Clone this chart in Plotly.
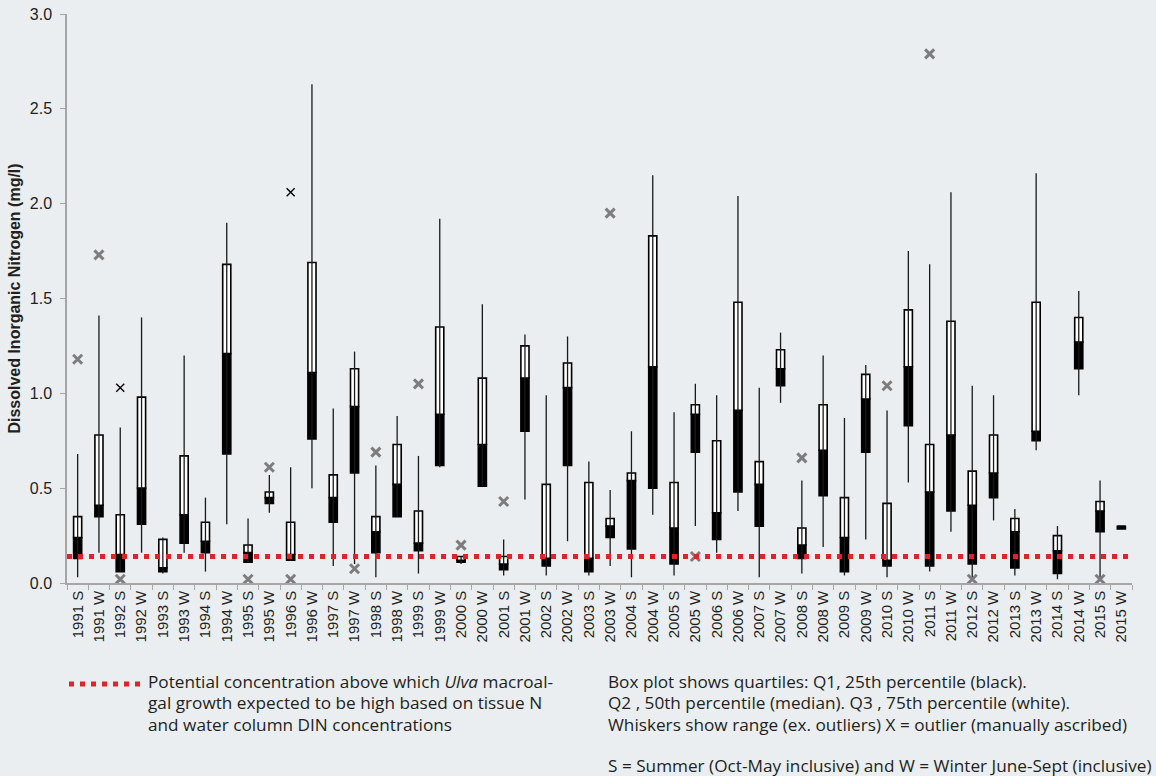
import plotly.graph_objects as go

years = list(range(1991, 2016))
categories = [f"{y} {s}" for y in years for s in ("S", "W")]

# whisker low / Q1 / median / Q3 / whisker high (mg/l)
wlow = [0.03, 0.16, 0.06, 0.16, 0.05, 0.16, 0.06, 0.31, 0.11, 0.37,
        0.12, 0.50, 0.09, 0.10, 0.03, 0.35, 0.05, 0.61, 0.10, 0.51,
        0.04, 0.44, 0.04, 0.22, 0.04, 0.09, 0.03, 0.36, 0.04, 0.30,
        0.16, 0.38, 0.03, 0.95, 0.05, 0.19, 0.04, 0.23, 0.03, 0.53,
        0.06, 0.27, 0.03, 0.33, 0.04, 0.70, 0.02, 0.99, 0.02, 0.29]
q1 = [0.13, 0.35, 0.06, 0.31, 0.06, 0.21, 0.16, 0.68, 0.11, 0.42,
      0.12, 0.76, 0.32, 0.58, 0.16, 0.35, 0.17, 0.62, 0.11, 0.51,
      0.07, 0.80, 0.09, 0.62, 0.06, 0.24, 0.18, 0.50, 0.10, 0.69,
      0.23, 0.48, 0.30, 1.04, 0.13, 0.46, 0.06, 0.69, 0.09, 0.83,
      0.09, 0.38, 0.10, 0.45, 0.08, 0.75, 0.05, 1.13, 0.27, 0.285]
median = [0.24, 0.41, 0.15, 0.50, 0.08, 0.36, 0.22, 1.21, 0.16, 0.45,
          0.15, 1.11, 0.45, 0.93, 0.27, 0.52, 0.21, 0.89, 0.12, 0.73,
          0.10, 1.08, 0.13, 1.03, 0.13, 0.30, 0.54, 1.14, 0.29, 0.89,
          0.37, 0.91, 0.52, 1.13, 0.20, 0.70, 0.24, 0.97, 0.12, 1.14,
          0.48, 0.78, 0.41, 0.58, 0.27, 0.80, 0.17, 1.27, 0.38, 0.299]
q3 = [0.35, 0.78, 0.36, 0.98, 0.23, 0.67, 0.32, 1.68, 0.20, 0.48,
      0.32, 1.69, 0.57, 1.13, 0.35, 0.73, 0.38, 1.35, 0.14, 1.08,
      0.14, 1.25, 0.52, 1.16, 0.53, 0.34, 0.58, 1.83, 0.53, 0.94,
      0.75, 1.48, 0.64, 1.23, 0.29, 0.94, 0.45, 1.10, 0.42, 1.44,
      0.73, 1.38, 0.59, 0.78, 0.34, 1.48, 0.25, 1.40, 0.43, 0.299]
whigh = [0.68, 1.41, 0.82, 1.40, 0.24, 1.20, 0.45, 1.90, 0.34, 0.57,
         0.61, 2.63, 0.92, 1.22, 0.62, 0.88, 0.67, 1.92, 0.14, 1.47,
         0.23, 1.31, 0.99, 1.30, 0.64, 0.49, 0.80, 2.15, 0.90, 1.05,
         0.99, 2.04, 1.03, 1.32, 0.54, 1.20, 0.87, 1.15, 0.91, 1.75,
         1.68, 2.06, 1.04, 0.99, 0.39, 2.16, 0.30, 1.54, 0.54, 0.29]

# outliers (manually ascribed)
out_grey_cat = ["1991 S", "1991 W", "1992 S", "1995 S", "1995 W", "1996 S",
                "1997 W", "1998 S", "1999 S", "2000 S", "2001 S", "2003 W",
                "2005 W", "2008 S", "2010 S", "2011 S", "2012 S", "2015 S"]
out_grey_val = [1.18, 1.73, 0.02, 0.02, 0.61, 0.02,
                0.075, 0.69, 1.05, 0.20, 0.43, 1.95,
                0.14, 0.66, 1.04, 2.79, 0.02, 0.02]
out_black_cat = ["1992 S", "1996 S"]
out_black_val = [1.03, 2.06]

threshold = 0.14

legend_lines = ["Potential concentration above which <i>Ulva</i> macroal-",
                "gal growth expected to be high based on tissue N",
                "and water column DIN concentrations"]
note_lines = ["Box plot shows quartiles: Q1, 25th percentile (black).",
              "Q2 , 50th percentile (median). Q3 , 75th percentile (white).",
              "Whiskers show range (ex. outliers) X = outlier (manually ascribed)",
              "S = Summer (Oct-May inclusive) and W = Winter June-Sept (inclusive)"]

# ---- geometry helpers (pixel -> paper) ----
W, H = 1156, 776
L, R, T, B = 67, 24, 14, 193
PW, PH = W - L - R, H - T - B


def px(xp):
    return (xp - L) / PW


def py(yp):
    return (H - B - yp) / PH


BG = "#eaeef1"
RED = "#e0222b"

fig = go.Figure()

# whiskers
wx, wy = [], []
for c, lo, hi in zip(categories, wlow, whigh):
    wx += [c, c, None]
    wy += [lo, hi, None]
fig.add_trace(go.Scatter(x=wx, y=wy, mode="lines",
                         line=dict(color="#1a1a1a", width=1.3),
                         hoverinfo="skip"))

# lower box (Q1 -> median), black
fig.add_trace(go.Bar(x=categories, base=q1,
                     y=[m - a for m, a in zip(median, q1)],
                     width=0.38, marker=dict(color="black",
                                             line=dict(color="black", width=1.6))))
# upper box (median -> Q3), white
fig.add_trace(go.Bar(x=categories, base=median,
                     y=[b - m for b, m in zip(q3, median)],
                     width=0.38, marker=dict(color="white",
                                             line=dict(color="black", width=1.6))))

# threshold dotted line spanning the full plot width
fig.add_trace(go.Scatter(x=[0, 1], y=[threshold, threshold], mode="lines",
                         xaxis="x2",
                         line=dict(color=RED, width=5, dash="5px,6px"),
                         hoverinfo="skip"))

# outliers
fig.add_trace(go.Scatter(x=out_grey_cat, y=out_grey_val, mode="markers",
                         marker=dict(symbol="x-thin", size=9,
                                     line=dict(color="#7d7d7d", width=3))))
fig.add_trace(go.Scatter(x=out_black_cat, y=out_black_val, mode="markers",
                         marker=dict(symbol="x-thin", size=8,
                                     line=dict(color="black", width=1.4))))

txt_font = dict(family="Open Sans", size=17.2, color="#231f20")

# legend-like dotted line + text
fig.add_shape(type="line", xref="paper", yref="paper",
              x0=px(69), x1=px(140), y0=py(684), y1=py(684),
              line=dict(color=RED, width=5, dash="5px,6px"))
for line, yc in zip(legend_lines, [681, 702.5, 724]):
    fig.add_annotation(xref="paper", yref="paper", x=px(146), y=py(yc),
                       xanchor="left", yanchor="middle", align="left",
                       showarrow=False, font=txt_font, text=line)
for line, yc in zip(note_lines, [681, 702.5, 724, 765]):
    fig.add_annotation(xref="paper", yref="paper", x=px(606), y=py(yc),
                       xanchor="left", yanchor="middle", align="left",
                       showarrow=False, font=txt_font, text=line)

axis_col = "#a6a6a6"
fig.update_layout(
    width=W, height=H,
    margin=dict(l=L, r=R, t=T, b=B, autoexpand=False),
    paper_bgcolor=BG, plot_bgcolor=BG,
    barmode="overlay", showlegend=False,
    font=dict(family="Liberation Sans, Arial", color="#231f20"),
    xaxis=dict(type="category", categoryorder="array", categoryarray=categories,
               range=[-0.5, len(categories) - 0.5],
               tickangle=-90, tickson="boundaries", ticks="outside", ticklen=5,
               tickcolor=axis_col, showline=True, linecolor=axis_col, linewidth=1.5,
               showgrid=False, zeroline=False,
               tickfont=dict(family="Liberation Sans, Arial", size=15, color="#231f20")),
    xaxis2=dict(overlaying="x", range=[0, 1], visible=False),
    yaxis=dict(range=[0, 3], dtick=0.5, tickformat=".1f", ticks="outside", ticklen=5,
               tickcolor=axis_col, showline=True, linecolor=axis_col, linewidth=1.5,
               showgrid=False, zeroline=False, ticklabelstandoff=5,
               tickfont=dict(family="Liberation Sans, Arial", size=16, color="#231f20"),
               title=dict(text="<b>Dissolved Inorganic Nitrogen (mg/l)</b>",
                          font=dict(family="Liberation Sans, Arial", size=16, color="#231f20"),
                          standoff=5)),
)

fig.write_html(
    "out.html",
    config={"displayModeBar": False},
    post_script=("document.body.style.margin='0';"
                 "document.body.style.background='" + BG + "';"
                 "document.body.style.overflow='hidden';"),
)
